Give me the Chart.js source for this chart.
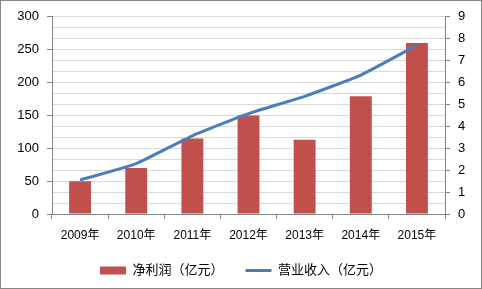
<!DOCTYPE html>
<html>
<head>
<meta charset="utf-8">
<script src="https://cdn.jsdelivr.net/npm/chart.js@4/dist/chart.umd.min.js"></script>
<style>
  html, body { margin: 0; padding: 0; background: #fff; }
  #box { width: 480px; height: 287px; border: 1px solid #868686; position: relative; }
</style>
</head>
<body>
<div id="box"><canvas id="myChart"></canvas></div>
<script>
let years = ['2009年', '2010年', '2011年', '2012年', '2013年', '2014年', '2015年'];
let profit = [50, 70, 115, 150, 113, 179, 260];
let revenue = [1.55, 2.3, 3.57, 4.58, 5.37, 6.34, 7.7];
let labelProfit = '净利润（亿元）';
let labelRevenue = '营业收入（亿元）';

let axisGray = '#868686';
let gridGray = '#d9d9d9';
let fontFam = "'Liberation Sans', Arial, 'Noto Sans CJK SC', sans-serif";

let ctx = document.getElementById('myChart').getContext('2d');
let myChart = new Chart(ctx, {
  data: {
    labels: years,
    datasets: [{
      type: 'bar',
      label: labelProfit,
      data: profit,
      backgroundColor: '#c0504d',
      yAxisID: 'y',
      categoryPercentage: 1,
      barPercentage: 0.39,
      order: 2
    }, {
      type: 'line',
      label: labelRevenue,
      data: revenue,
      borderColor: '#4a7ebb',
      backgroundColor: '#4a7ebb',
      borderWidth: 3,
      pointRadius: 0,
      tension: 0.15,
      yAxisID: 'y1',
      order: 1
    }]
  },
  options: {
    responsive: true,
    maintainAspectRatio: false,
    animation: false,
    layout: { padding: { top: 8, left: 0, right: 0, bottom: 1 } },
    scales: {
      x: {
        offset: true,
        afterFit: function(scale) { scale.height = 28; },
        grid: { offset: true, drawOnChartArea: false, tickLength: 5, tickColor: axisGray },
        border: { color: axisGray },
        ticks: { color: '#000', padding: 9, maxRotation: 0, autoSkip: false, font: { size: 12, family: fontFam } }
      },
      y: {
        position: 'left',
        min: 0, max: 300,
        afterFit: function(scale) { scale.width = 51; },
        grid: { drawOnChartArea: false, tickLength: 5, tickColor: axisGray },
        border: { color: axisGray },
        ticks: { stepSize: 50, color: '#000', padding: 8, font: { size: 13, family: fontFam } }
      },
      y1: {
        position: 'right',
        min: 0, max: 9,
        afterFit: function(scale) { scale.width = 36; },
        grid: {
          color: gridGray,
          tickLength: 5,
          tickColor: function(c) { return c.tick && c.tick.value % 1 === 0 ? axisGray : 'rgba(0,0,0,0)'; }
        },
        border: { color: axisGray },
        ticks: {
          stepSize: 0.5,
          autoSkip: false,
          color: '#000',
          padding: 8,
          font: { size: 13, family: fontFam },
          callback: function(v) { return v % 1 === 0 ? v : ''; }
        }
      }
    },
    plugins: {
      tooltip: { enabled: false },
      legend: {
        display: true,
        position: 'bottom',
        labels: {
          usePointStyle: true,
          boxHeight: 8,
          pointStyleWidth: 26,
          padding: 22,
          color: '#000',
          font: { size: 13, family: fontFam },
          generateLabels: function(chart) {
            let items = Chart.defaults.plugins.legend.labels.generateLabels(chart);
            items.sort(function(a, b) { return a.datasetIndex - b.datasetIndex; });
            items.forEach(function(it) {
              if (it.datasetIndex === 0) {
                it.pointStyle = 'rect';
                it.lineWidth = 0;
              } else {
                it.pointStyle = 'line';
                it.lineWidth = 3;
                it.strokeStyle = '#4a7ebb';
              }
            });
            return items;
          }
        }
      }
    }
  }
});
</script>
</body>
</html>
